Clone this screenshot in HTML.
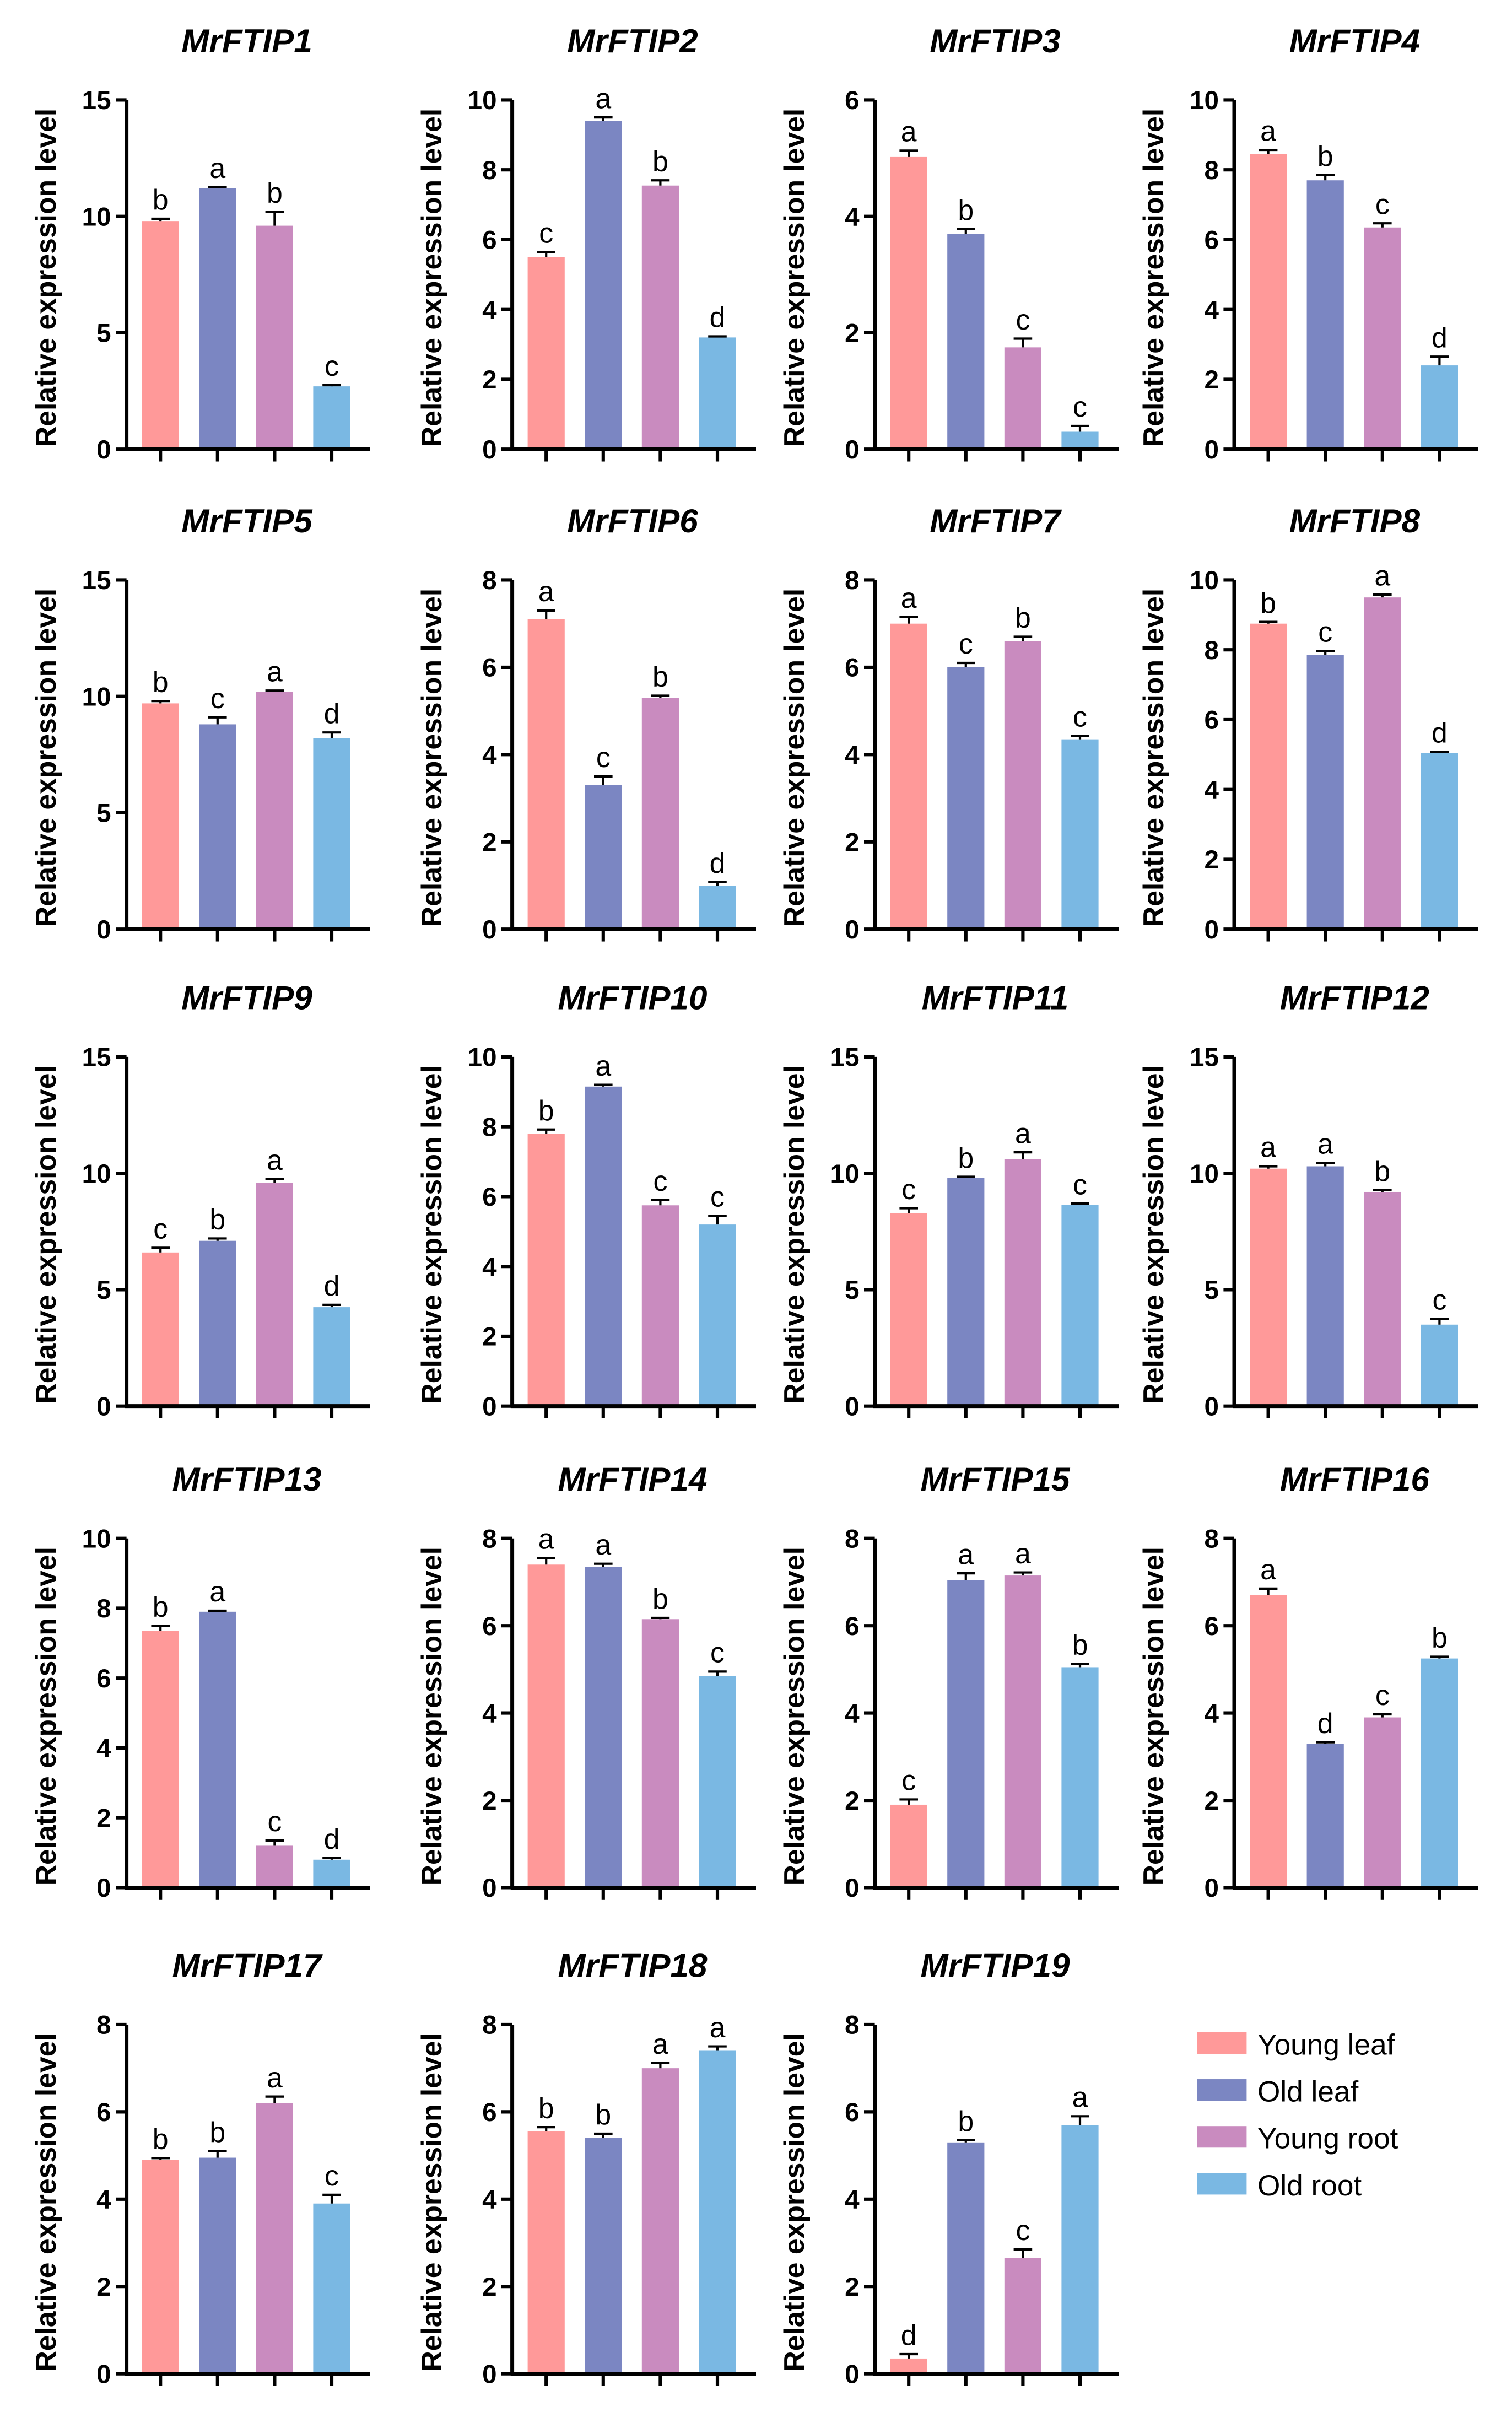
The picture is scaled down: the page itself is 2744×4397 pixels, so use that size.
<!DOCTYPE html>
<html><head><meta charset="utf-8">
<style>html,body{margin:0;padding:0;background:#fff}svg{display:block}text{font-family:"Liberation Sans",Arial,sans-serif}</style>
</head><body>
<svg id="fig" xmlns="http://www.w3.org/2000/svg" width="2744" height="4397" viewBox="0 0 980 1575" preserveAspectRatio="none"></svg>
<script>
const genes = ["MrFTIP1","MrFTIP2","MrFTIP3","MrFTIP4","MrFTIP5","MrFTIP6","MrFTIP7","MrFTIP8","MrFTIP9","MrFTIP10","MrFTIP11","MrFTIP12","MrFTIP13","MrFTIP14","MrFTIP15","MrFTIP16","MrFTIP17","MrFTIP18","MrFTIP19"];
const categories = ["Young leaf","Old leaf","Young root","Old root"];
const yMax = [15,10,6,10,15,8,8,10,15,10,15,15,10,8,8,8,8,8,8];
const yStep = [5,2,2,2,5,2,2,2,5,2,5,5,2,2,2,2,2,2,2];
const values = [
[9.8,11.2,9.6,2.7],[5.5,9.4,7.55,3.2],[5.03,3.7,1.75,0.3],[8.45,7.7,6.35,2.4],
[9.7,8.8,10.2,8.2],[7.1,3.3,5.3,1.0],[7.0,6.0,6.6,4.35],[8.75,7.85,9.5,5.05],
[6.6,7.1,9.6,4.25],[7.8,9.15,5.75,5.2],[8.3,9.8,10.6,8.65],[10.2,10.3,9.2,3.5],
[7.35,7.9,1.2,0.8],[7.4,7.35,6.15,4.85],[1.9,7.05,7.15,5.05],[6.7,3.3,3.9,5.25],
[4.9,4.95,6.2,3.9],[5.55,5.4,7.0,7.4],[0.35,5.3,2.65,5.7]];
const errors = [
[.1,.05,.6,.05],[.15,.1,.15,.03],[.1,.08,.15,.1],[.12,.15,.12,.25],
[.1,.3,.05,.25],[.2,.2,.05,.08],[.15,.1,.1,.08],[.05,.12,.08,.03],
[.2,.1,.15,.1],[.12,.05,.15,.25],[.2,.05,.3,.05],[.1,.15,.08,.25],
[.15,.03,.15,.05],[.15,.07,.03,.1],[.12,.15,.07,.08],[.15,.03,.07,.04],
[.04,.15,.15,.2],[.1,.1,.12,.1],[.1,.05,.2,.2]];
const letters = [
["b","a","b","c"],["c","a","b","d"],["a","b","c","c"],["a","b","c","d"],
["b","c","a","d"],["a","c","b","d"],["a","c","b","c"],["b","c","a","d"],
["c","b","a","d"],["b","a","c","c"],["c","b","a","c"],["a","a","b","c"],
["b","a","c","d"],["a","a","b","c"],["c","a","a","b"],["a","d","c","b"],
["b","b","a","c"],["b","b","a","a"],["d","b","c","a"]];
const colors = ["#FF9999","#7B86C2","#C98BBF","#7AB8E3"];

const NS="http://www.w3.org/2000/svg";
const svg=document.getElementById('fig');
function mk(tag,attrs,parent){const e=document.createElementNS(NS,tag);for(const k in attrs)e.setAttribute(k,attrs[k]);(parent||svg).appendChild(e);return e;}
const colX=[82,332,567,800], rowY=[292,604,914,1227,1543], H=227, AW=158, BW=24, SP=37;

genes.forEach((g,i)=>{
  const r=Math.floor(i/4), c=i%4, x0=colX[c], y0=rowY[r];
  const yS=v=>y0-v/yMax[i]*H;
  const xS=j=>x0+22+j*SP;
  const grp=mk('g',{});
  
  
  const t=mk('text',{x:x0+78,y:y0-H-31,'text-anchor':'middle','font-size':21.5,'font-weight':'bold','font-style':'italic'},grp);
  t.textContent=g;
  
  
  const yl=mk('text',{transform:`translate(${x0-46},${y0-H/2+2}) rotate(-90)`,'text-anchor':'middle','font-size':18.5,'font-weight':'bold'},grp);
  yl.textContent='Relative expression level';
  
  
  categories.forEach((cat,j)=>{
    const v=values[i][j], e=errors[i][j], cx=xS(j);
    const b=mk('rect',{x:cx-BW/2,y:yS(v),width:BW,height:y0-yS(v),fill:colors[j]},grp);
    
    
    const ye=yS(v+e);
    mk('line',{x1:cx,x2:cx,y1:yS(v),y2:ye,stroke:'#000','stroke-width':1.5},grp);
    const cap=mk('line',{x1:cx-6,x2:cx+6,y1:ye,y2:ye,stroke:'#000','stroke-width':1.5},grp);
    
    
    const lt=mk('text',{x:cx,y:ye-6,'text-anchor':'middle','font-size':18.5},grp);
    lt.textContent=letters[i][j];
    
    
    mk('line',{x1:cx,x2:cx,y1:y0,y2:y0+8,stroke:'#000','stroke-width':2.2},grp);
  });
  for(let v=0;v<=yMax[i]+1e-9;v+=yStep[i]){
    const y=yS(v);
    mk('line',{x1:x0-7,x2:x0,y1:y,y2:y,stroke:'#000','stroke-width':2.2},grp);
    const tl=mk('text',{x:x0-10,y:y+6,'text-anchor':'end','font-size':17,'font-weight':'bold'},grp);
    tl.textContent=v;
    
    
  }
  mk('line',{x1:x0,x2:x0,y1:y0-H,y2:y0+1,stroke:'#000','stroke-width':2.5},grp);
  mk('line',{x1:x0-1,x2:x0+AW,y1:y0,y2:y0,stroke:'#000','stroke-width':2.5},grp);
});
const lg=mk('g',{});


categories.forEach((cat,j)=>{
  const y=1328+j*30.5;
  const sw=mk('rect',{x:776,y:y-7,width:32,height:14,fill:colors[j]},lg);
  
  
  const tx=mk('text',{x:815,y:y+7.5,'font-size':19},lg);
  tx.textContent=cat;
  
  
});
</script>
</body></html>
